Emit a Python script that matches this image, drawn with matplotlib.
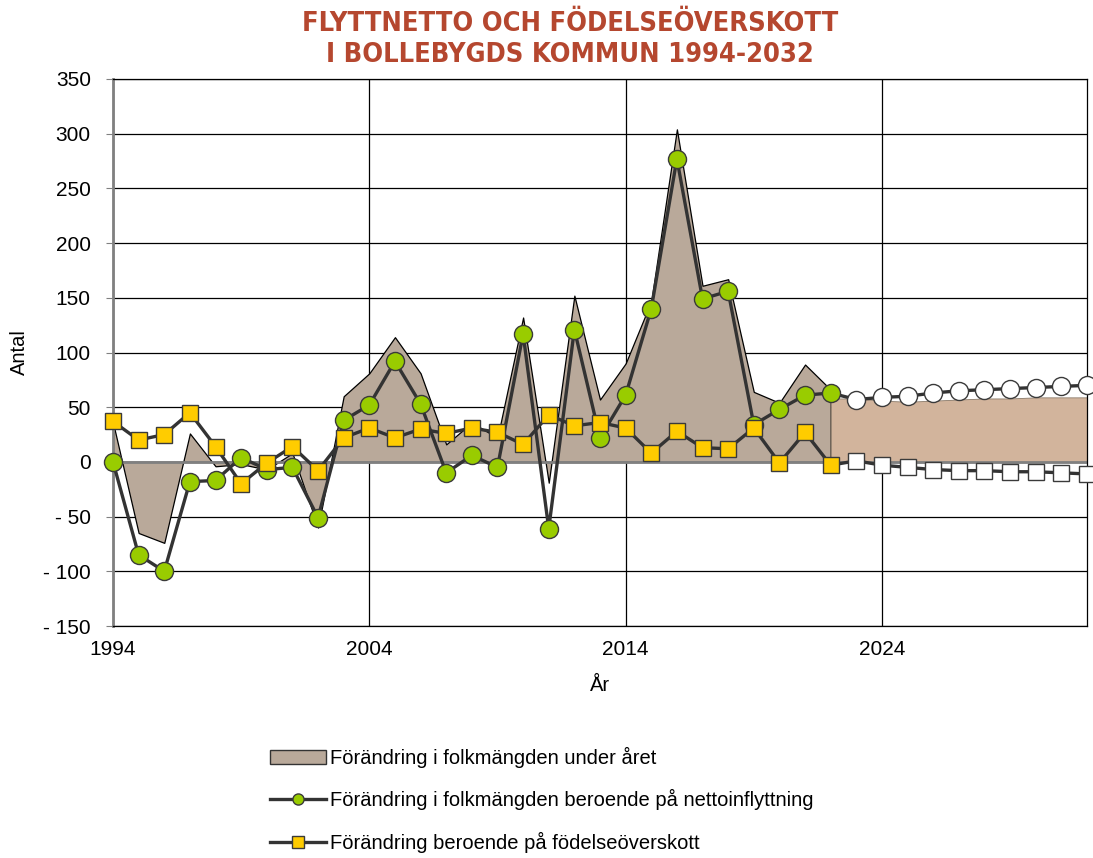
import numpy as np
import matplotlib as mpl
mpl.use('Agg')
import matplotlib.pyplot as plt
from matplotlib.lines import Line2D
from matplotlib.patches import Patch

# historical years and projection years
YEARS = list(range(1994, 2023))
PROJ_YEARS = list(range(2023, 2033))

# total change in population (area)
TOTAL = [36, -65, -74, 26, -4, -2, -7, 8, -60, 60, 81, 114, 81, 16, 36, 22,
         132, -19, 152, 57, 90, 147, 304, 161, 167, 64, 54, 89, 66]
# projected total change (area, starts at last historical year)
PROJ_AREA_YEARS = list(range(2022, 2033))
PROJ_TOTAL = [58, 58, 56, 55, 56, 57, 58, 58, 59, 59, 59]

# net migration
MIGR = [0, -85, -100, -18, -17, 4, -7, -5, -51, 38, 52, 92, 53, -10, 6, -5,
        117, -61, 121, 22, 61, 140, 277, 149, 156, 34, 48, 61, 63]
PROJ_MIGR = [57, 59, 60, 63, 65, 66, 67, 68, 69, 70]

# birth surplus
BIRTH = [37, 20, 25, 45, 14, -20, -1, 14, -8, 22, 31, 22, 30, 26, 31, 27,
         16, 43, 33, 36, 31, 8, 28, 13, 12, 31, -1, 27, -3]
PROJ_BIRTH = [1, -3, -5, -7, -8, -8, -9, -9, -10, -11]

YTICKS = [-150, -100, -50, 0, 50, 100, 150, 200, 250, 300, 350]
YTICKLABELS = ['- 150', '- 100', '- 50', '0', '50', '100', '150', '200',
               '250', '300', '350']
XTICKS = [1994, 2004, 2014, 2024]

LABELS = ['Förändring i folkmängden under året',
          'Förändring i folkmängden beroende på nettoinflyttning',
          'Förändring beroende på födelseöverskott']

AREA_COLOR = '#B9A99A'
PROJ_COLOR = '#D2B49C'
GREEN = '#99CC00'
YELLOW = '#FFCC00'
LINE = '#333333'

plt.rcParams['font.family'] = ['Liberation Sans', 'DejaVu Sans']

fig = plt.figure(figsize=(10.93, 8.58), dpi=100)
ax = fig.add_axes([113/1093, 1-626/858, (1087-113)/1093, (626-79)/858])

# areas
ax.fill_between(YEARS, 0, TOTAL, facecolor=AREA_COLOR, edgecolor='black',
                linewidth=0.9, zorder=2)
ax.fill_between(PROJ_AREA_YEARS, 0, PROJ_TOTAL, facecolor=PROJ_COLOR,
                edgecolor='#8a7a6a', linewidth=0.6, zorder=2)
ax.axhline(0, color='#808080', lw=2, zorder=2.5)

all_years = YEARS + PROJ_YEARS
migr_all = MIGR + PROJ_MIGR
birth_all = BIRTH + PROJ_BIRTH

# lines
ax.plot(all_years, migr_all, color=LINE, lw=2.4, zorder=3)
ax.plot(all_years, birth_all, color=LINE, lw=2.4, zorder=3)

# markers
ms_c = 13
ms_s = 12
ax.plot(YEARS, MIGR, 'o', ms=ms_c, mfc=GREEN, mec='#3a3a3a', mew=1.0,
        zorder=4, clip_on=False)
ax.plot(PROJ_YEARS, PROJ_MIGR, 'o', ms=ms_c, mfc='white', mec='#3a3a3a',
        mew=1.0, zorder=4, clip_on=False)
ax.plot(YEARS, BIRTH, 's', ms=ms_s, mfc=YELLOW, mec='#3a3a3a', mew=1.0,
        zorder=5, clip_on=False)
ax.plot(PROJ_YEARS, PROJ_BIRTH, 's', ms=ms_s, mfc='white', mec='#3a3a3a',
        mew=1.0, zorder=5, clip_on=False)

ax.set_xlim(1994, 2032)
ax.set_ylim(-150, 350)
ax.set_yticks(YTICKS)
ax.set_yticklabels(YTICKLABELS)
ax.set_xticks(XTICKS)
ax.tick_params(axis='both', labelsize=15, length=5, color='#808080')
ax.tick_params(axis='y', pad=11)
ax.tick_params(axis='x', length=0, pad=10)

ax.grid(True, color='black', lw=0.9)
ax.set_axisbelow(True)
for s in ['top', 'right', 'bottom']:
    ax.spines[s].set_color('black')
    ax.spines[s].set_linewidth(0.9)
ax.spines['left'].set_color('#808080')
ax.spines['left'].set_linewidth(2)

ax.set_xlabel('År', fontsize=14.5, labelpad=12)
ax.set_ylabel('Antal', fontsize=14.5, labelpad=10)

fig.text(570/1093, 1-11/858,
         'FLYTTNETTO OCH FÖDELSEÖVERSKOTT\nI BOLLEBYGDS KOMMUN 1994-2032',
         ha='center', va='top', fontsize=19.5, fontweight='bold',
         fontstretch='condensed', color='#B5472F', linespacing=1.25,
         family=['DejaVu Sans'])

# legend
handles = [
    Patch(facecolor=AREA_COLOR, edgecolor='#333333', linewidth=1),
    Line2D([], [], color=LINE, lw=2.4, marker='o', ms=8, mfc=GREEN,
           mec='#3a3a3a'),
    Line2D([], [], color=LINE, lw=2.4, marker='s', ms=8, mfc=YELLOW,
           mec='#3a3a3a'),
]
leg = fig.legend(handles, LABELS, loc='upper left',
                 bbox_to_anchor=(260/1093, 1-737/858), frameon=False,
                 fontsize=14.5, handlelength=2.8, handleheight=0.7,
                 handletextpad=0.2, labelspacing=1.05, borderpad=0)

fig.savefig('out.png', dpi=100)
plt.close(fig)
